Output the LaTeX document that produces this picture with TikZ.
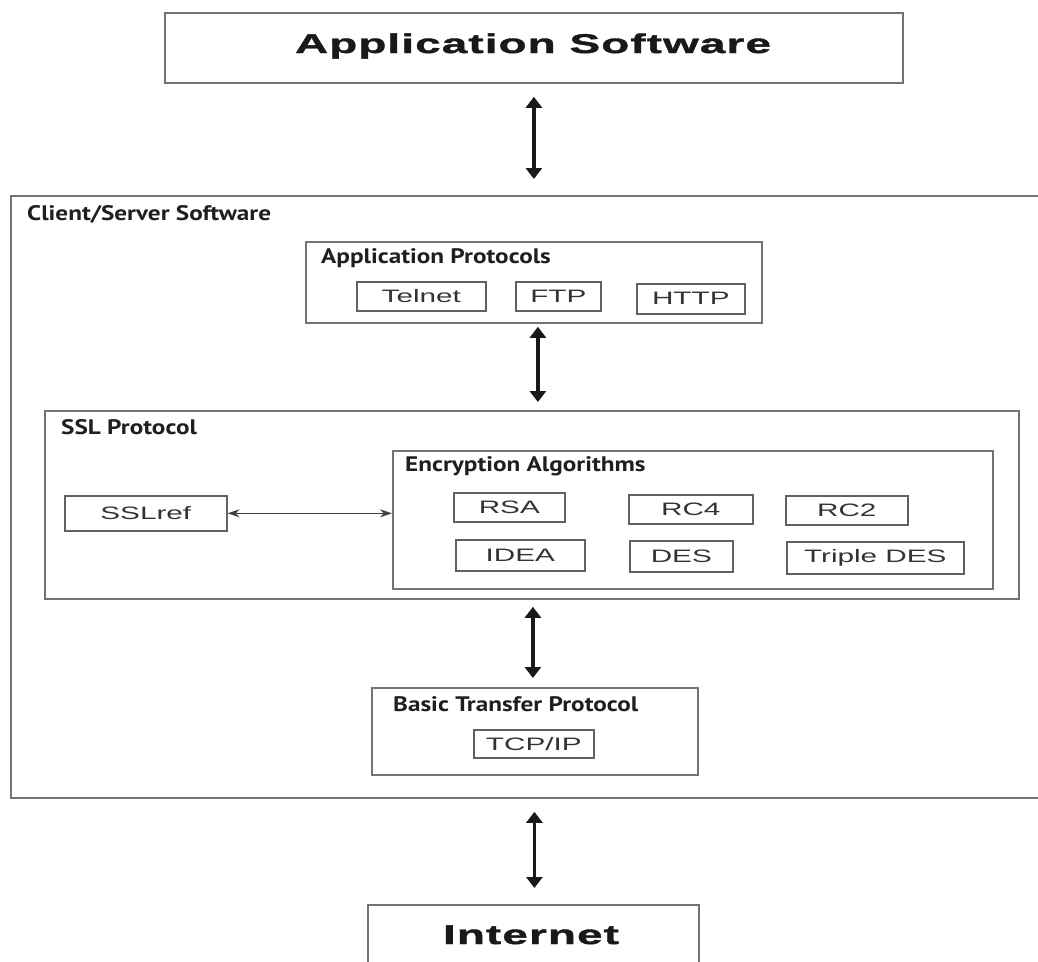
\documentclass[tikz,border=0pt]{standalone}
\usepackage{fontspec}
\usetikzlibrary{arrows.meta}
\newfontfamily\titlefont{Liberation Sans}[FakeStretch=1.7,LetterSpace=4,FakeBold=1.5]
\newfontfamily\boxfont{Liberation Sans}[FakeStretch=1.65]
\newfontfamily\labfont{PT Sans}[FakeStretch=1.2]
\begin{document}
\begin{tikzpicture}[x=1pt,y=-1pt,
  frame/.style={draw=black!55, line width=1.8pt, inner sep=0pt, anchor=north west},
  smallbox/.style={frame, draw=black!62, line width=1.6pt,
     font=\boxfont\fontsize{18}{20}\selectfont, text=black!80},
  titletext/.style={font=\titlefont\bfseries\fontsize{27}{30}\selectfont, text=black!90,
     anchor=base, inner sep=0pt},
  lab/.style={font=\labfont\bfseries\fontsize{21}{24}\selectfont, anchor=base west,
     inner sep=0pt, text=black!88},
  bigarrow/.style={line width=3.5pt, black!90,
     {Triangle[width=16pt,length=11pt]}-{Triangle[width=16pt,length=11pt]}},
  thinarrow/.style={line width=1.5pt, black!75,
     {Stealth[width=8pt,length=12pt]}-{Stealth[width=8pt,length=12pt]}}
]
\fill[white] (0,0) rectangle (1038,961);
\useasboundingbox (0,0) rectangle (1038,961);
\clip (0,0) rectangle (1038,961);

% top
\node[frame, minimum width=738pt, minimum height=70pt] (app) at (164,12) {};
\node[titletext] (apptext) at (533,53) {Application Software};

% client/server container
\node[frame, minimum width=1040pt, minimum height=602pt] (cs) at (10,195) {};
\node[lab] (cslab) at (27,220) {Client/Server Software};

% application protocols
\node[frame, minimum width=456pt, minimum height=81pt] (ap) at (305,241) {};
\node[lab] (aplab) at (321,263) {Application Protocols};
\node[smallbox, minimum width=129pt, minimum height=29pt] (telnet) at (356,281) {Telnet};
\node[smallbox, minimum width=85pt, minimum height=29pt] (ftp) at (515,281) {FTP};
\node[smallbox, minimum width=108pt, minimum height=30pt] (http) at (636,283) {HTTP};

% SSL protocol
\node[frame, minimum width=974pt, minimum height=188pt] (ssl) at (44,410) {};
\node[lab] (ssllab) at (61,434) {SSL Protocol};
\node[smallbox, minimum width=162pt, minimum height=35pt] (sslref) at (64,495) {SSLref};

\node[frame, minimum width=600pt, minimum height=138pt] (enc) at (392,450) {};
\node[lab] (enclab) at (405,471) {Encryption Algorithms};
\node[smallbox, minimum width=111pt, minimum height=29pt] (rsa) at (453,492) {RSA};
\node[smallbox, minimum width=124pt, minimum height=29pt] (rc4) at (628,494) {RC4};
\node[smallbox, minimum width=122pt, minimum height=29pt] (rc2) at (785,495) {RC2};
\node[smallbox, minimum width=129pt, minimum height=31pt] (idea) at (455,539) {IDEA};
\node[smallbox, minimum width=103pt, minimum height=31pt] (des) at (629,540) {DES};
\node[smallbox, minimum width=177pt, minimum height=32pt] (tdes) at (786,541) {Triple DES};

% basic transfer protocol
\node[frame, minimum width=326pt, minimum height=87pt] (btp) at (371,687) {};
\node[lab] (btplab) at (393,711) {Basic Transfer Protocol};
\node[smallbox, minimum width=120pt, minimum height=28pt] (tcp) at (473,729) {TCP/IP};

% internet
\node[frame, minimum width=331pt, minimum height=71pt] (inet) at (367,904) {};
\node[titletext] (inettext) at (531,944) {Internet};

% connectors
\coordinate (a1t) at ([yshift=-13pt]app.south);
\coordinate (a1b) at (a1t |- cs.north);
\draw[bigarrow] (a1t) -- ([yshift=16pt]a1b);

\coordinate (a2t) at ([xshift=4pt,yshift=-3pt]ap.south);
\coordinate (a2b) at (a2t |- ssl.north);
\draw[bigarrow] (a2t) -- ([yshift=8pt]a2b);

\coordinate (a3t) at ([xshift=-2pt,yshift=-7pt]btp.north |- ssl.south);
\coordinate (a3b) at ([xshift=-2pt,yshift=9pt]btp.north);
\draw[bigarrow] (a3t) -- (a3b);

\coordinate (a4t) at ([xshift=1pt,yshift=-13pt]inet.north |- cs.south);
\coordinate (a4b) at ([xshift=1pt,yshift=16pt]inet.north);
\draw[bigarrow] (a4t) -- (a4b);

\draw[thinarrow] (sslref.east) -- (sslref.east -| enc.west);
\end{tikzpicture}
\end{document}
